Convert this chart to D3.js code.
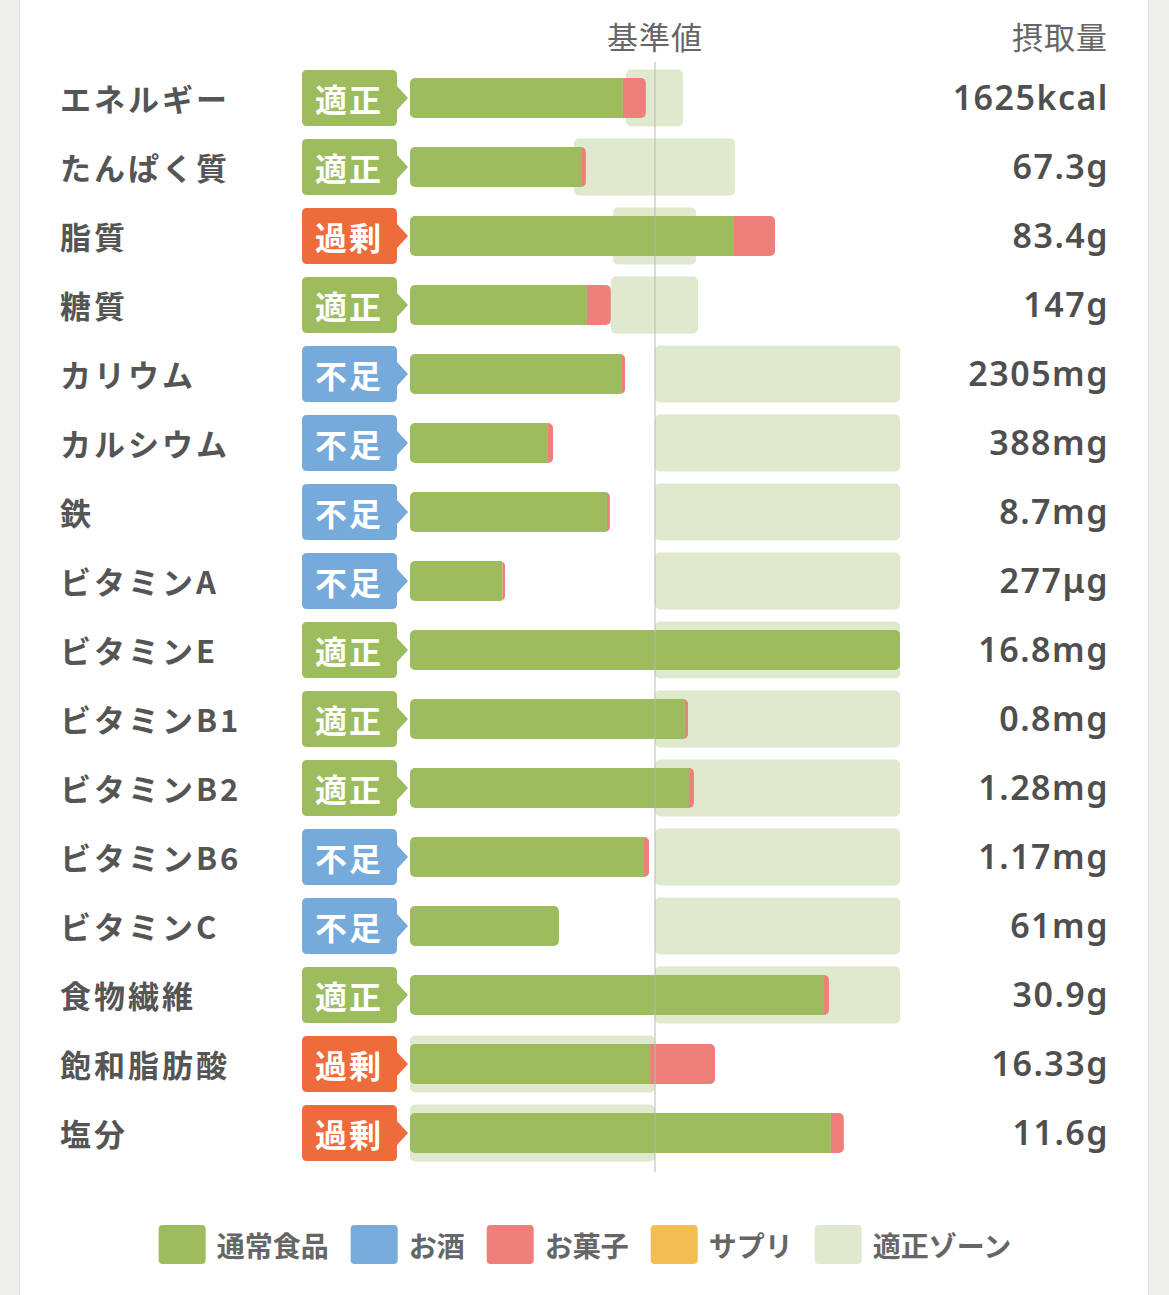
<!DOCTYPE html>
<html>
<head>
<meta charset="utf-8">
<script src="https://cdn.jsdelivr.net/npm/d3@7"></script>
<style>
  html, body { margin: 0; padding: 0; background: #efefe9; }
  svg { display: block; }
</style>
</head>
<body>
<div id="chart"></div>
<script>
// 栄養素ごとのデータ（基準値を100%とした割合）
const nutrients = ["エネルギー", "たんぱく質", "脂質", "糖質", "カリウム", "カルシウム", "鉄", "ビタミンA",
  "ビタミンE", "ビタミンB1", "ビタミンB2", "ビタミンB6", "ビタミンC", "食物繊維", "飽和脂肪酸", "塩分"];
const status = ["適正", "適正", "過剰", "適正", "不足", "不足", "不足", "不足",
  "適正", "適正", "適正", "不足", "不足", "適正", "過剰", "過剰"];
const foodPct = [86.9, 70.2, 132.2, 72.2, 86.5, 56.3, 80.4, 37.8, 200, 112.2, 113.9, 95.5, 60.8, 169.0, 98.0, 171.8];
const alcoholPct = [0, 0, 0, 0, 0, 0, 0, 0, 0, 0, 0, 0, 0, 0, 0, 0];
const snackPct = [9.4, 1.6, 16.8, 9.8, 1.3, 2.1, 1.2, 1.0, 0, 1.3, 2.0, 2.1, 0, 2.0, 26.5, 5.3];
const supplementPct = [0, 0, 0, 0, 0, 0, 0, 0, 0, 0, 0, 0, 0, 0, 0, 0];
const zoneMin = [88.2, 66.9, 82.9, 82.0, 100, 100, 100, 100, 100, 100, 100, 100, 100, 100, 0, 0];
const zoneMax = [111.4, 132.7, 116.7, 117.6, 200, 200, 200, 200, 200, 200, 200, 200, 200, 200, 100, 100];
const intake = ["1625kcal", "67.3g", "83.4g", "147g", "2305mg", "388mg", "8.7mg", "277μg",
  "16.8mg", "0.8mg", "1.28mg", "1.17mg", "61mg", "30.9g", "16.33g", "11.6g"];
const seriesKeys = ["通常食品", "お酒", "お菓子", "サプリ"];
const legendLabels = ["通常食品", "お酒", "お菓子", "サプリ", "適正ゾーン"];

const W = 1169, H = 1295;
const colors = { "通常食品": "#9dbc5e", "お酒": "#78acdb", "お菓子": "#ee7f7b", "サプリ": "#f4bd52", "適正ゾーン": "#dfe9cd" };
const badgeColor = { "適正": "#9dbc5e", "過剰": "#ee6b3b", "不足": "#76aadb" };
const textColor = "#555";
const jp = "'Noto Sans CJK JP', 'Noto Sans', sans-serif";

const dataset = nutrients.map((name, i) => ({
  name, status: status[i], intake: intake[i],
  "通常食品": foodPct[i], "お酒": alcoholPct[i], "お菓子": snackPct[i], "サプリ": supplementPct[i],
  zmin: zoneMin[i], zmax: zoneMax[i]
}));

const svg = d3.select("#chart").append("svg")
  .attr("width", W).attr("height", H);

// 白いパネル
svg.append("rect").attr("x", 19).attr("y", -10).attr("width", 1130).attr("height", H + 20)
  .attr("fill", "#e2e2dc");
svg.append("rect").attr("x", 20).attr("y", -10).attr("width", 1128).attr("height", H + 20)
  .attr("fill", "#fff");

const y = d3.scaleBand()
  .domain(nutrients)
  .range([63.5, 63.5 + nutrients.length * 69])
  .padding(0);
const cy = d => y(d) + y.bandwidth() / 2;

const x = d3.scaleLinear().domain([0, 200]).range([410, 900]).clamp(true);

const zoneH = 57, barH = 40;

// 適正ゾーン
svg.append("g").selectAll("rect")
  .data(dataset)
  .join("rect")
  .attr("x", d => x(d.zmin))
  .attr("y", d => cy(d.name) - zoneH / 2)
  .attr("width", d => x(d.zmax) - x(d.zmin))
  .attr("height", zoneH)
  .attr("rx", 5)
  .attr("fill", colors["適正ゾーン"]);

// 積み上げ棒
const stacked = d3.stack().keys(seriesKeys)(dataset);
const defs = svg.append("defs");
dataset.forEach((d, i) => {
  const total = d3.sum(seriesKeys, k => d[k]);
  defs.append("clipPath").attr("id", "clip" + i)
    .append("rect")
    .attr("x", x(0))
    .attr("y", cy(d.name) - barH / 2)
    .attr("width", x(total) - x(0))
    .attr("height", barH)
    .attr("rx", 5);
});

const bars = svg.append("g");
stacked.forEach(layer => {
  bars.append("g").attr("fill", colors[layer.key])
    .selectAll("rect")
    .data(layer)
    .join("rect")
    .attr("clip-path", (d, i) => `url(#clip${i})`)
    .attr("x", d => x(d[0]))
    .attr("y", d => cy(d.data.name) - barH / 2)
    .attr("width", d => Math.max(0, x(d[1]) - x(d[0])))
    .attr("height", barH);
});

// 基準値ライン
svg.append("line")
  .attr("x1", x(100)).attr("x2", x(100))
  .attr("y1", 62).attr("y2", 1172)
  .attr("stroke", "#b8b8b8").attr("stroke-width", 1);

// ヘッダー
svg.append("text")
  .attr("x", x(100)).attr("y", 35)
  .attr("text-anchor", "middle").attr("dominant-baseline", "central")
  .style("font-family", jp).style("font-size", "31px").style("fill", "#666")
  .style("letter-spacing", "1px")
  .text("基準値");
svg.append("text")
  .attr("x", 1108).attr("y", 35)
  .attr("text-anchor", "end").attr("dominant-baseline", "central")
  .style("font-family", jp).style("font-size", "31px").style("fill", "#666")
  .style("letter-spacing", "1px")
  .text("摂取量");

// 栄養素名
svg.append("g").selectAll("text")
  .data(dataset)
  .join("text")
  .attr("x", 60)
  .attr("y", d => cy(d.name) - 1)
  .attr("dominant-baseline", "central")
  .style("font-family", jp).style("font-size", "31px").style("font-weight", "bold")
  .style("fill", textColor).style("letter-spacing", "3px")
  .text(d => d.name);

// 判定バッジ（右向きの矢印つき）
function badgePath(c) {
  const l = 302, r = 397, t = c - 28, b = c + 28, rr = 5, tip = 408, n = 12;
  return `M${l + rr},${t} H${r - rr} Q${r},${t} ${r},${t + rr} V${c - n} L${tip},${c} L${r},${c + n} ` +
    `V${b - rr} Q${r},${b} ${r - rr},${b} H${l + rr} Q${l},${b} ${l},${b - rr} V${t + rr} Q${l},${t} ${l + rr},${t} Z`;
}
const badges = svg.append("g").selectAll("g")
  .data(dataset)
  .join("g");
badges.append("path")
  .attr("d", d => badgePath(cy(d.name)))
  .attr("fill", d => badgeColor[d.status]);
badges.append("text")
  .attr("x", 349)
  .attr("y", d => cy(d.name))
  .attr("text-anchor", "middle").attr("dominant-baseline", "central")
  .style("font-family", jp).style("font-size", "32px").style("font-weight", "bold")
  .style("fill", "#fff").style("letter-spacing", "2px")
  .text(d => d.status);

// 摂取量
svg.append("g").selectAll("text")
  .data(dataset)
  .join("text")
  .attr("x", 1109)
  .attr("y", d => cy(d.name) - 1)
  .attr("text-anchor", "end").attr("dominant-baseline", "central")
  .style("font-family", "'Noto Sans', sans-serif").style("font-size", "34px").style("font-weight", 600)
  .style("fill", "#4f4f4f").style("letter-spacing", "1.5px")
  .text(d => d.intake);

// 凡例
const legend = svg.append("g");
const legendItems = legend.selectAll("g")
  .data(legendLabels)
  .join("g");
legendItems.append("rect")
  .attr("x", 0).attr("y", 1225)
  .attr("width", 47).attr("height", 39).attr("rx", 4)
  .attr("fill", d => colors[d]);
legendItems.append("text")
  .attr("x", 58).attr("y", 1245)
  .attr("dominant-baseline", "central")
  .style("font-family", jp).style("font-size", "28px").style("font-weight", "bold")
  .style("fill", "#666")
  .text(d => d);

let offset = 0;
const widths = [];
legendItems.each(function() {
  const tw = d3.select(this).select("text").node().getComputedTextLength();
  widths.push(58 + tw);
});
const gap = 22;
const totalW = d3.sum(widths) + gap * (widths.length - 1);
let start = 585 - totalW / 2;
legendItems.attr("transform", (d, i) => {
  const tx = start + offset;
  offset += widths[i] + gap;
  return `translate(${tx},0)`;
});
</script>
</body>
</html>
